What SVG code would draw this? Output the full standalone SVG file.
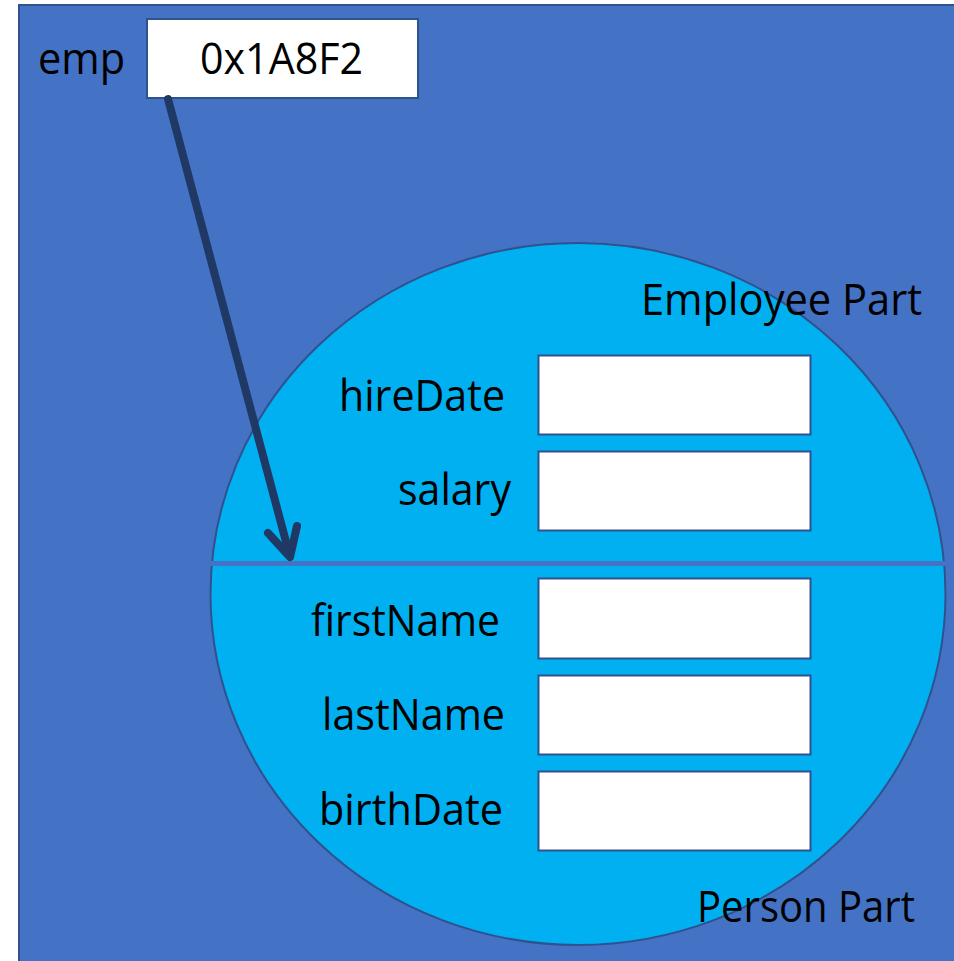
<svg xmlns="http://www.w3.org/2000/svg" width="954" height="961" viewBox="0 0 954 961">
<style>
.t{font-family:"Open Sans","Noto Sans","DejaVu Sans",sans-serif;font-size:43px;fill:#000}
.box{fill:#fff;stroke:#2F528F;stroke-width:2}
</style>
<rect x="0" y="0" width="954" height="961" fill="#fff"/>
<g id="memory">
<rect x="19" y="5" width="950" height="970" fill="#4472C4" stroke="#2F528F" stroke-width="2"/>
</g>
<g id="emp">
<text class="t" x="38" y="74" textLength="87" lengthAdjust="spacingAndGlyphs">emp</text>
<rect class="box" x="147" y="19" width="271" height="79" stroke-width="1.5"/>
<text class="t" x="200" y="74" textLength="163" lengthAdjust="spacingAndGlyphs">0x1A8F2</text>
</g>
<g id="object">
<ellipse cx="578" cy="594" rx="367.5" ry="351" fill="#00B0F0" stroke="#2F528F" stroke-width="2"/>
<line x1="210" y1="563.5" x2="946" y2="563.5" stroke="#4472C4" stroke-width="5"/>
<text class="t" x="641" y="315" textLength="281" lengthAdjust="spacingAndGlyphs">Employee Part</text>
<text class="t" x="697" y="922" textLength="218" lengthAdjust="spacingAndGlyphs">Person Part</text>
</g>
<g id="hireDate">
<text class="t" x="339" y="411" textLength="166" lengthAdjust="spacingAndGlyphs">hireDate</text>
<rect class="box" x="538.5" y="355.5" width="272" height="79"/>
</g>
<g id="salary">
<text class="t" x="398" y="505" textLength="113" lengthAdjust="spacingAndGlyphs">salary</text>
<rect class="box" x="538.5" y="451.5" width="272" height="79"/>
</g>
<g id="firstName">
<text class="t" x="311" y="636" textLength="189" lengthAdjust="spacingAndGlyphs">firstName</text>
<rect class="box" x="538.5" y="578.5" width="272" height="80"/>
</g>
<g id="lastName">
<text class="t" x="322" y="730" textLength="183" lengthAdjust="spacingAndGlyphs">lastName</text>
<rect class="box" x="538.5" y="675.5" width="272" height="79"/>
</g>
<g id="birthDate">
<text class="t" x="319" y="825" textLength="184" lengthAdjust="spacingAndGlyphs">birthDate</text>
<rect class="box" x="538.5" y="771.5" width="272" height="79"/>
</g>
<g id="connectors" fill="none" stroke="#203864" stroke-width="8" stroke-linecap="round" stroke-linejoin="round">
<line x1="168" y1="99" x2="289" y2="553"/>
<polyline points="268,533 290,557 297,526"/>
</g>
</svg>
